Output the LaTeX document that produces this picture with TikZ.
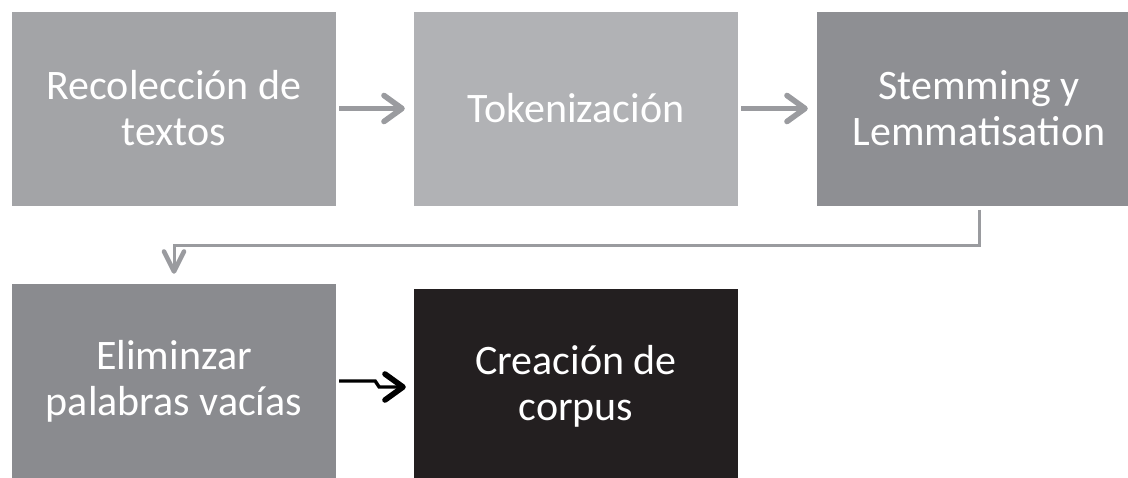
\documentclass[tikz,border=0pt]{standalone}
\usepackage{fontspec}
\setmainfont{Carlito}
\usetikzlibrary{arrows.meta}
\definecolor{cA}{HTML}{A3A4A7}
\definecolor{cB}{HTML}{B1B2B5}
\definecolor{cC}{HTML}{8E8F93}
\definecolor{cD}{HTML}{8A8B8F}
\definecolor{cE}{HTML}{231F20}
\definecolor{arr}{HTML}{9A9B9F}
\tikzset{
  box/.style={inner sep=0pt, minimum width=324pt, minimum height=194pt, text=white, align=center, font=\fontsize{42}{46}\selectfont},
  garrow/.style={draw=arr, line width=4.2pt, -{Straight Barb[length=18pt,width=26pt,line width=5.6pt,line cap=round,line join=round]}},
  varrow/.style={draw=arr, line width=3pt, -{Straight Barb[length=20pt,width=20pt,line width=4.6pt,line cap=round,line join=round]}},
  barrow/.style={draw=black, line width=3.4pt, -{Straight Barb[length=18pt,width=26pt,line width=5.6pt,line cap=round,line join=round]}}
}
\begin{document}
\begin{tikzpicture}[x=1pt,y=-1pt]
\useasboundingbox (0,0) rectangle (1128,477);
\clip (0,0) rectangle (1128,477);
\node[box, fill=cA] (b1) at (174,108.5) {Recolección de\\textos};
\node[box, fill=cB] (b2) at (576,108.5) {Tokenización};
\node[box, fill=cC] (b3) at (979,108.5) {Stemming y\\Lemmatisation};
\node[box, fill=cD] (b4) at (174,381) {Eliminzar\\palabras vacías};
\node[box, fill=cE] (b5) at (576,386) {Creación de\\corpus};
\draw[garrow] ([xshift=3pt]b1.east) -- ([xshift=-9pt]b2.west);
\draw[garrow] ([xshift=3pt]b2.east) -- ([xshift=-9pt]b3.west);
\draw[varrow] ([yshift=-4pt]b3.south) -- ++(0,36) -| ([yshift=10pt]b4.north);
\draw[barrow] ([xshift=3pt]b4.east) -- ++(36,0) -- ++(4,6) -- ([xshift=-8pt,yshift=-1pt]b5.west);
\end{tikzpicture}
\end{document}
